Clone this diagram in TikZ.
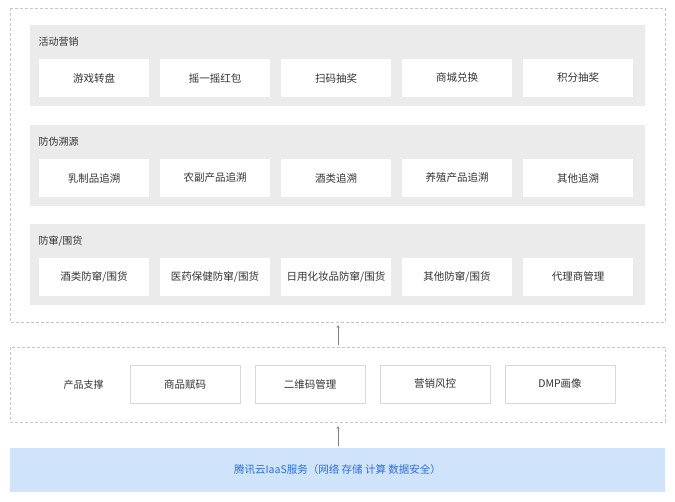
\documentclass[tikz,border=0pt]{standalone}
\usepackage{fontspec}
\setmainfont{Noto Sans CJK SC}
\usetikzlibrary{positioning}
\definecolor{grpbg}{HTML}{EBEBEB}
\definecolor{dashgray}{HTML}{C8C8C8}
\definecolor{barblue}{HTML}{CFE3FB}
\definecolor{txtblue}{HTML}{2F6FD6}
\definecolor{txtgray}{HTML}{333333}
\tikzset{
  itembox/.style = {draw=grpbg, fill=white, minimum width=111pt, minimum height=39pt, inner sep=0pt,
    font=\fontsize{10.5}{12}\selectfont, text=txtgray},
  grplabel/.style = {anchor=west, font=\fontsize{10}{12}\selectfont, text=txtgray},
  outerbox/.style = {draw=dashgray, dashed, dash pattern=on 3pt off 2pt},
  uparrow/.style = {draw=gray, -stealth}
}
\begin{document}
\begin{tikzpicture}[x=1pt, y=-1pt]
    \useasboundingbox (0,0) rectangle (675,502);
    % application layer
    \draw[outerbox] (10,8) rectangle (665,322);
    \foreach \top/\name/\items [count=\g] in {
      25/活动营销/{游戏转盘,摇一摇红包,扫码抽奖,商城兑换,积分抽奖},
      125/防伪溯源/{乳制品追溯,农副产品追溯,酒类追溯,养殖产品追溯,其他追溯},
      224/防窜{/}围货/{酒类防窜{/}围货,医药保健防窜{/}围货,日用化妆品防窜{/}围货,其他防窜{/}围货,代理商管理}} {
      \fill[grpbg] (30,\top) rectangle (645,\top+81);
      \node[grplabel] (lbl\g) at (35,\top+17) {\name};
      \foreach \it [count=\i] in \items {
        \node[itembox] (it\g\i) at (94+121*\i-121,\top+53) {\it};
      }
    }
    % product layer
    \draw[outerbox] (10,347) rectangle (665,422);
    \node[grplabel] (prod) at (60,385) {产品支撑};
    \foreach \it [count=\i] in {商品赋码,二维码管理,营销风控,DMP画像} {
      \node[itembox, draw=dashgray!70, minimum width=110pt, minimum height=38pt] (pr\i) at (185+125*\i-125,384) {\it};
    }
    % base layer
    \node[fill=barblue, minimum width=655pt, minimum height=44pt, inner sep=0pt,
      font=\fontsize{10.5}{12}\selectfont, text=txtblue] (iaas) at (337.5,470) {腾讯云IaaS服务（网络 存储 计算 数据安全）};
    \coordinate (a1s) at (338,345); \coordinate (a1e) at (338,325);
    \coordinate (a2s) at (338,446); \coordinate (a2e) at (338,426);
    \draw[uparrow] (a1s) -- (a1e);
    \draw[uparrow] (a2s) -- (a2e);
\end{tikzpicture}
\end{document}
